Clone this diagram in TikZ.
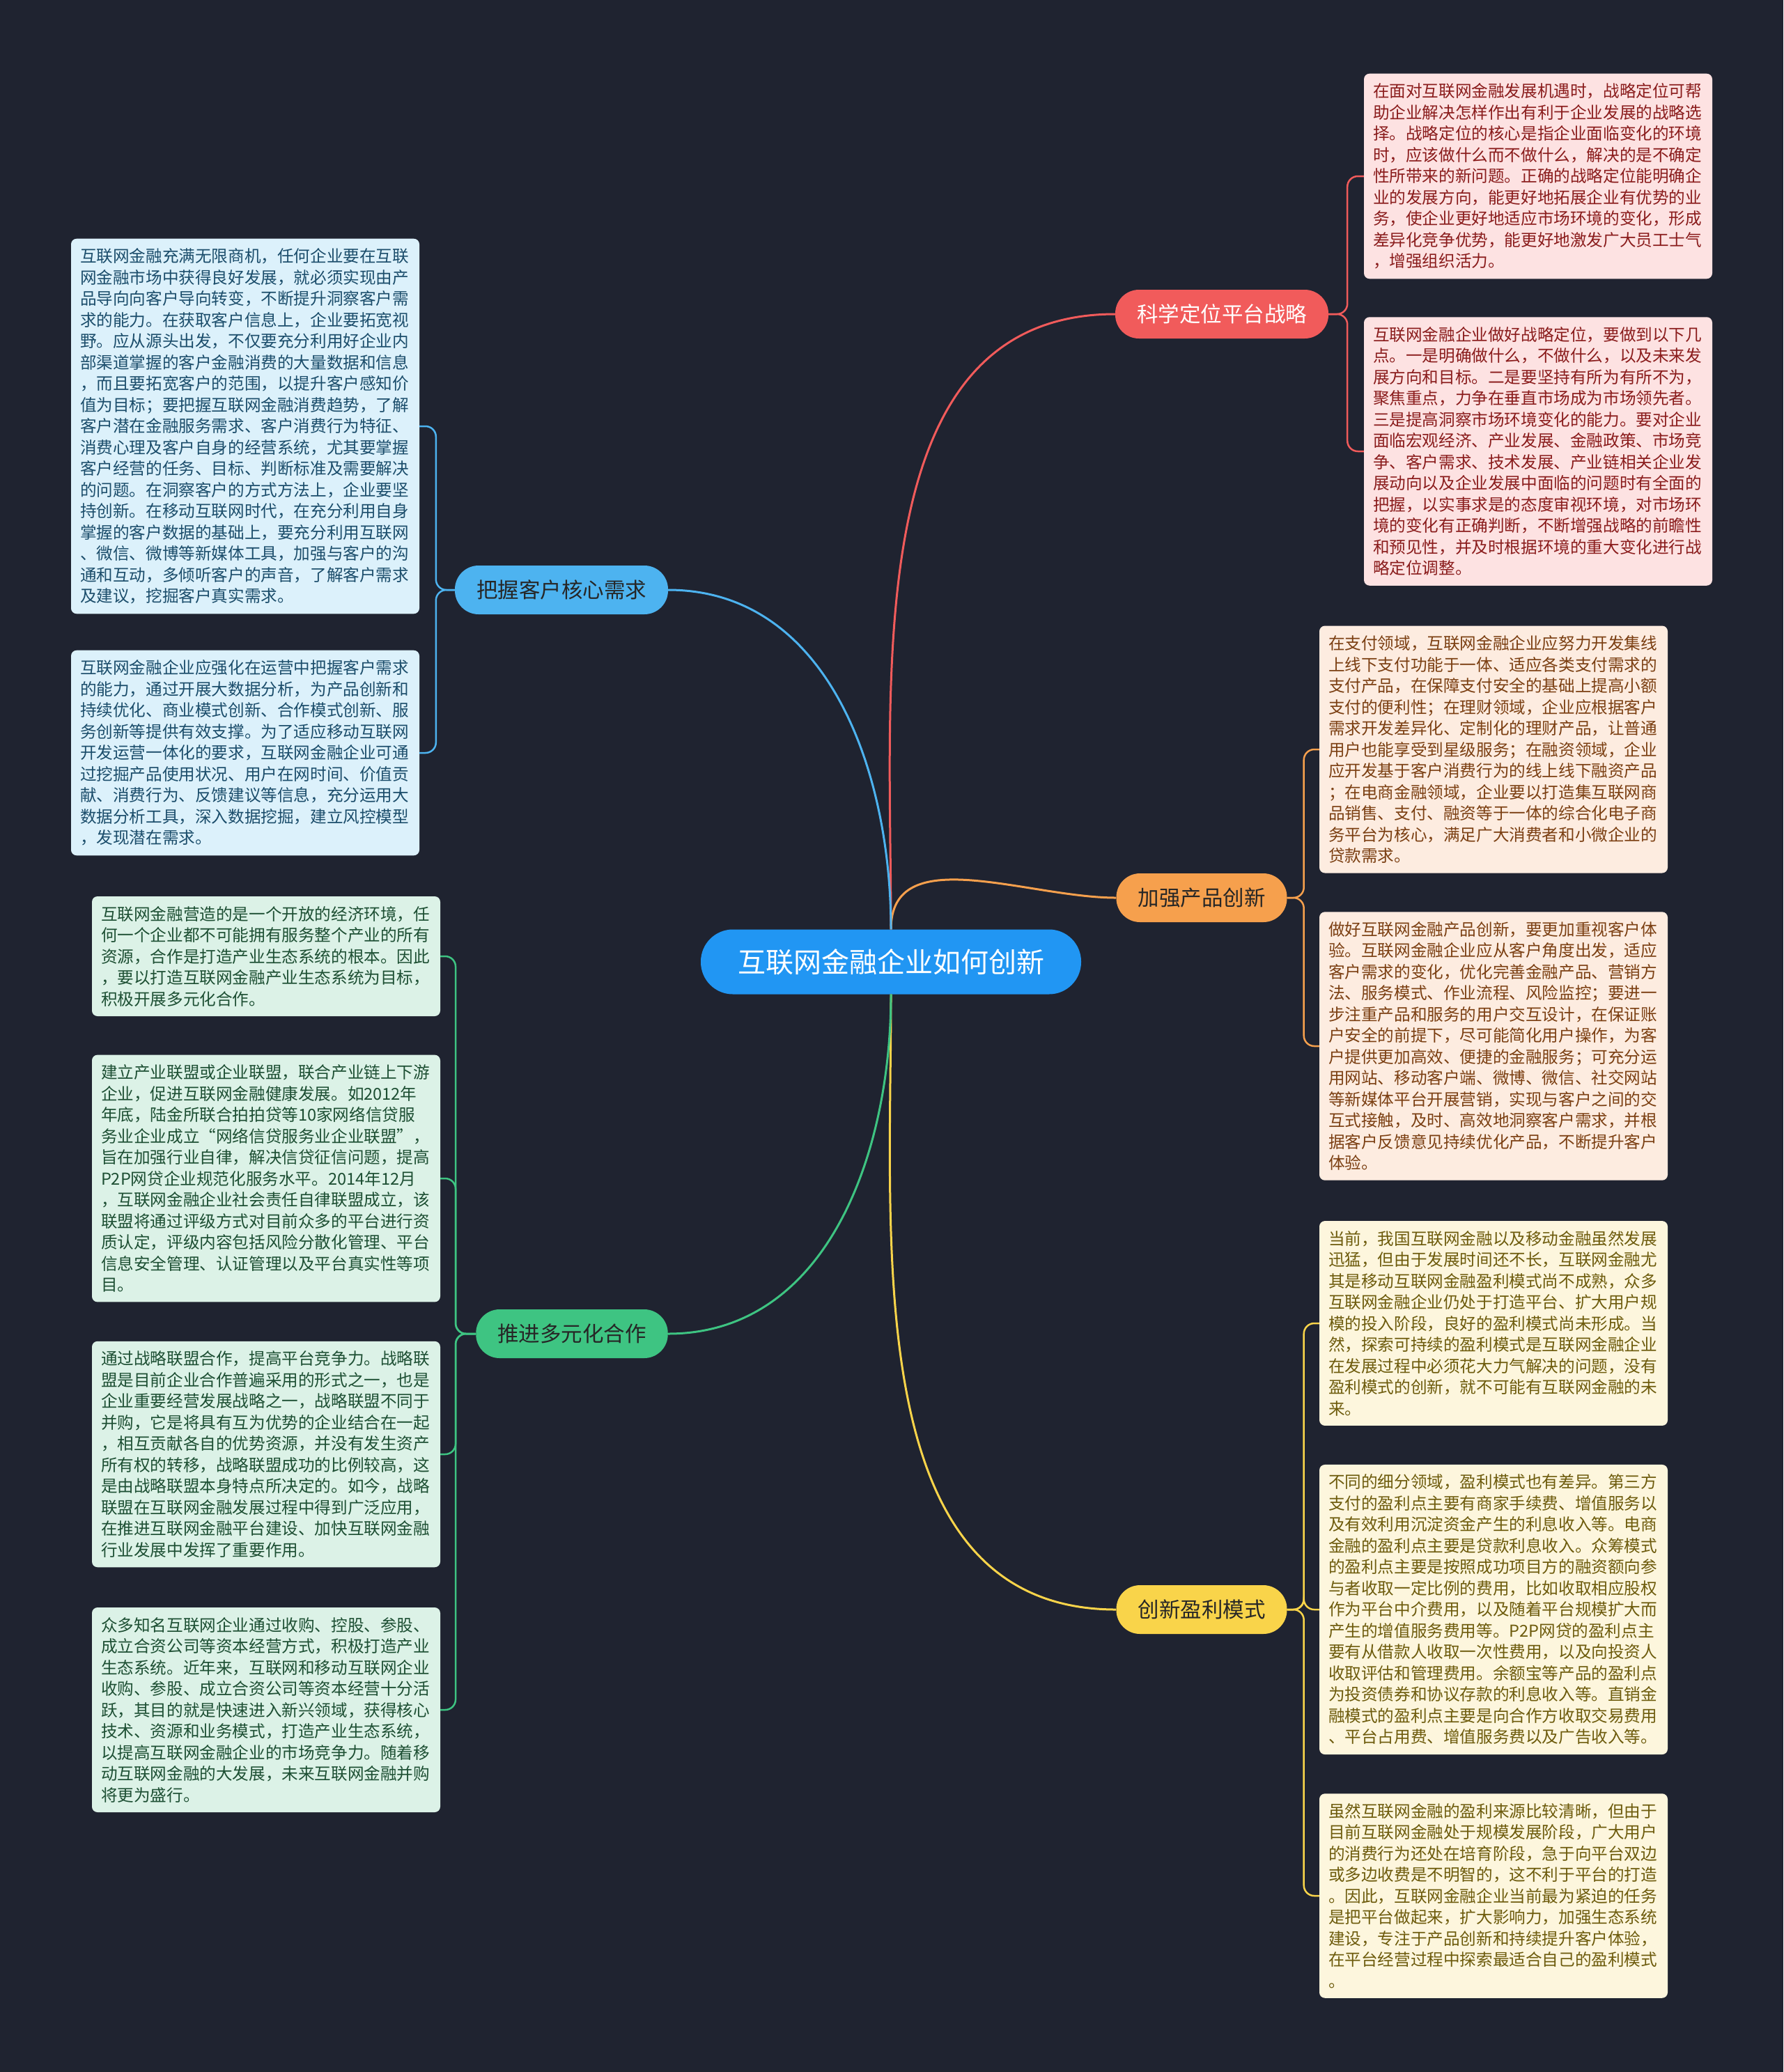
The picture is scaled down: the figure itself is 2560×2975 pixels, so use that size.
\documentclass[tikz,border=0pt]{standalone}
\usepackage{fontspec}
\setmainfont{Noto Sans CJK SC}
\usetikzlibrary{calc}
\definecolor{bg}{HTML}{1F2330}
\definecolor{cblue}{HTML}{2196F3}
\definecolor{rnode}{HTML}{F15B5B}
\definecolor{rfill}{HTML}{FDE2E2}
\definecolor{rtext}{HTML}{8A1C1C}
\definecolor{onode}{HTML}{F6A04D}
\definecolor{ofill}{HTML}{FDECE0}
\definecolor{otext}{HTML}{7B3F12}
\definecolor{ynode}{HTML}{F9D44A}
\definecolor{yfill}{HTML}{FDF6DD}
\definecolor{ytext}{HTML}{6D5B0C}
\definecolor{bnode}{HTML}{4DB3F0}
\definecolor{bfill}{HTML}{DCF1FB}
\definecolor{btext}{HTML}{1B4D6B}
\definecolor{gnode}{HTML}{3EC482}
\definecolor{gfill}{HTML}{DCF2E7}
\definecolor{gtext}{HTML}{1D4F33}
\tikzset{
  card/.style={rounded corners=8pt, inner xsep=13pt, inner ysep=14pt, text width=474pt, align=left, font=\fontsize{23.6}{30.5}\selectfont},
  branch/.style={rounded corners=34pt, minimum height=70pt, inner xsep=31pt, font=\fontsize{30.5}{36}\selectfont},
  link/.style={line width=3pt},
  bracket/.style={line width=2.5pt, rounded corners=15pt}
}
\begin{document}
\begin{tikzpicture}[x=1pt,y=-1pt]
\fill[bg] (0,0) rectangle (2560,2975);
\useasboundingbox (0,0) rectangle (2560,2975);

% centre
\node[fill=cblue, text=white, rounded corners=46pt, minimum height=93pt, minimum width=546pt, font=\fontsize{40}{46}\selectfont] (c) at (1279,1381) {互联网金融企业如何创新};

% branches
\node[branch, fill=rnode, text=white] (r) at (1754,451) {科学定位平台战略};
\node[branch, fill=onode, text=black!85] (o) at (1725,1289) {加强产品创新};
\node[branch, fill=ynode, text=black!85] (y) at (1725,2311) {创新盈利模式};
\node[branch, fill=bnode, text=black!85] (b) at (806,847) {把握客户核心需求};
\node[branch, fill=gnode, text=black!85] (g) at (821,1915) {推进多元化合作};

% centre links
\draw[link, rnode] (c.north) to[out=90,in=180] (r.west);
\draw[link, onode] (c.north) to[out=90,in=180] (o.west);
\draw[link, bnode] (c.north) to[out=90,in=0] (b.east);
\draw[link, ynode] (c.south) to[out=-90,in=180] (y.west);
\draw[link, gnode] (c.south) to[out=-90,in=0] (g.east);

% red cards
\node[card, fill=rfill, text=rtext] (r1) at (2208,253) {在面对互联网金融发展机遇时，战略定位可帮\\助企业解决怎样作出有利于企业发展的战略选\\择。战略定位的核心是指企业面临变化的环境\\时，应该做什么而不做什么，解决的是不确定\\性所带来的新问题。正确的战略定位能明确企\\业的发展方向，能更好地拓展企业有优势的业\\务，使企业更好地适应市场环境的变化，形成\\差异化竞争优势，能更好地激发广大员工士气\\，增强组织活力。};
\node[card, fill=rfill, text=rtext] (r2) at (2208,648) {互联网金融企业做好战略定位，要做到以下几\\点。一是明确做什么，不做什么，以及未来发\\展方向和目标。二是要坚持有所为有所不为，\\聚焦重点，力争在垂直市场成为市场领先者。\\三是提高洞察市场环境变化的能力。要对企业\\面临宏观经济、产业发展、金融政策、市场竞\\争、客户需求、技术发展、产业链相关企业发\\展动向以及企业发展中面临的问题时有全面的\\把握，以实事求是的态度审视环境，对市场环\\境的变化有正确判断，不断增强战略的前瞻性\\和预见性，并及时根据环境的重大变化进行战\\略定位调整。};

% orange cards
\node[card, fill=ofill, text=otext] (o1) at (2144,1076) {在支付领域，互联网金融企业应努力开发集线\\上线下支付功能于一体、适应各类支付需求的\\支付产品，在保障支付安全的基础上提高小额\\支付的便利性；在理财领域，企业应根据客户\\需求开发差异化、定制化的理财产品，让普通\\用户也能享受到星级服务；在融资领域，企业\\应开发基于客户消费行为的线上线下融资产品\\；在电商金融领域，企业要以打造集互联网商\\品销售、支付、融资等于一体的综合化电子商\\务平台为核心，满足广大消费者和小微企业的\\贷款需求。};
\node[card, fill=ofill, text=otext] (o2) at (2144,1502) {做好互联网金融产品创新，要更加重视客户体\\验。互联网金融企业应从客户角度出发，适应\\客户需求的变化，优化完善金融产品、营销方\\法、服务模式、作业流程、风险监控；要进一\\步注重产品和服务的用户交互设计，在保证账\\户安全的前提下，尽可能简化用户操作，为客\\户提供更加高效、便捷的金融服务；可充分运\\用网站、移动客户端、微博、微信、社交网站\\等新媒体平台开展营销，实现与客户之间的交\\互式接触，及时、高效地洞察客户需求，并根\\据客户反馈意见持续优化产品，不断提升客户\\体验。};

% yellow cards
\node[card, fill=yfill, text=ytext] (y1) at (2144,1900) {当前，我国互联网金融以及移动金融虽然发展\\迅猛，但由于发展时间还不长，互联网金融尤\\其是移动互联网金融盈利模式尚不成熟，众多\\互联网金融企业仍处于打造平台、扩大用户规\\模的投入阶段，良好的盈利模式尚未形成。当\\然，探索可持续的盈利模式是互联网金融企业\\在发展过程中必须花大力气解决的问题，没有\\盈利模式的创新，就不可能有互联网金融的未\\来。};
\node[card, fill=yfill, text=ytext] (y2) at (2144,2311) {不同的细分领域，盈利模式也有差异。第三方\\支付的盈利点主要有商家手续费、增值服务以\\及有效利用沉淀资金产生的利息收入等。电商\\金融的盈利点主要是贷款利息收入。众筹模式\\的盈利点主要是按照成功项目方的融资额向参\\与者收取一定比例的费用，比如收取相应股权\\作为平台中介费用，以及随着平台规模扩大而\\产生的增值服务费用等。P2P网贷的盈利点主\\要有从借款人收取一次性费用，以及向投资人\\收取评估和管理费用。余额宝等产品的盈利点\\为投资债券和协议存款的利息收入等。直销金\\融模式的盈利点主要是向合作方收取交易费用\\、平台占用费、增值服务费以及广告收入等。};
\node[card, fill=yfill, text=ytext] (y3) at (2144,2722) {虽然互联网金融的盈利来源比较清晰，但由于\\目前互联网金融处于规模发展阶段，广大用户\\的消费行为还处在培育阶段，急于向平台双边\\或多边收费是不明智的，这不利于平台的打造\\。因此，互联网金融企业当前最为紧迫的任务\\是把平台做起来，扩大影响力，加强生态系统\\建设，专注于产品创新和持续提升客户体验，\\在平台经营过程中探索最适合自己的盈利模式\\。};

% blue cards
\node[card, fill=bfill, text=btext] (b1) at (352,612) {互联网金融充满无限商机，任何企业要在互联\\网金融市场中获得良好发展，就必须实现由产\\品导向向客户导向转变，不断提升洞察客户需\\求的能力。在获取客户信息上，企业要拓宽视\\野。应从源头出发，不仅要充分利用好企业内\\部渠道掌握的客户金融消费的大量数据和信息\\，而且要拓宽客户的范围，以提升客户感知价\\值为目标；要把握互联网金融消费趋势，了解\\客户潜在金融服务需求、客户消费行为特征、\\消费心理及客户自身的经营系统，尤其要掌握\\客户经营的任务、目标、判断标准及需要解决\\的问题。在洞察客户的方式方法上，企业要坚\\持创新。在移动互联网时代，在充分利用自身\\掌握的客户数据的基础上，要充分利用互联网\\、微信、微博等新媒体工具，加强与客户的沟\\通和互动，多倾听客户的声音，了解客户需求\\及建议，挖掘客户真实需求。};
\node[card, fill=bfill, text=btext] (b2) at (352,1081) {互联网金融企业应强化在运营中把握客户需求\\的能力，通过开展大数据分析，为产品创新和\\持续优化、商业模式创新、合作模式创新、服\\务创新等提供有效支撑。为了适应移动互联网\\开发运营一体化的要求，互联网金融企业可通\\过挖掘产品使用状况、用户在网时间、价值贡\\献、消费行为、反馈建议等信息，充分运用大\\数据分析工具，深入数据挖掘，建立风控模型\\，发现潜在需求。};

% green cards
\node[card, fill=gfill, text=gtext] (g1) at (382,1373) {互联网金融营造的是一个开放的经济环境，任\\何一个企业都不可能拥有服务整个产业的所有\\资源，合作是打造产业生态系统的根本。因此\\，要以打造互联网金融产业生态系统为目标，\\积极开展多元化合作。};
\node[card, fill=gfill, text=gtext] (g2) at (382,1692) {建立产业联盟或企业联盟，联合产业链上下游\\企业，促进互联网金融健康发展。如2012年\\年底，陆金所联合拍拍贷等10家网络信贷服\\务业企业成立“网络信贷服务业企业联盟”，\\旨在加强行业自律，解决信贷征信问题，提高\\P2P网贷企业规范化服务水平。2014年12月\\，互联网金融企业社会责任自律联盟成立，该\\联盟将通过评级方式对目前众多的平台进行资\\质认定，评级内容包括风险分散化管理、平台\\信息安全管理、认证管理以及平台真实性等项\\目。};
\node[card, fill=gfill, text=gtext] (g3) at (382,2088) {通过战略联盟合作，提高平台竞争力。战略联\\盟是目前企业合作普遍采用的形式之一，也是\\企业重要经营发展战略之一，战略联盟不同于\\并购，它是将具有互为优势的企业结合在一起\\，相互贡献各自的优势资源，并没有发生资产\\所有权的转移，战略联盟成功的比例较高，这\\是由战略联盟本身特点所决定的。如今，战略\\联盟在互联网金融发展过程中得到广泛应用，\\在推进互联网金融平台建设、加快互联网金融\\行业发展中发挥了重要作用。};
\node[card, fill=gfill, text=gtext] (g4) at (382,2455) {众多知名互联网企业通过收购、控股、参股、\\成立合资公司等资本经营方式，积极打造产业\\生态系统。近年来，互联网和移动互联网企业\\收购、参股、成立合资公司等资本经营十分活\\跃，其目的就是快速进入新兴领域，获得核心\\技术、资源和业务模式，打造产业生态系统，\\以提高互联网金融企业的市场竞争力。随着移\\动互联网金融的大发展，未来互联网金融并购\\将更为盛行。};

% brackets
\draw[bracket, rnode] (r.east) -- ++(27,0) |- (r1.west);
\draw[bracket, rnode] (r.east) -- ++(27,0) |- (r2.west);
\draw[bracket, onode] (o.east) -- ++(24,0) |- (o1.west);
\draw[bracket, onode] (o.east) -- ++(24,0) |- (o2.west);
\draw[bracket, ynode] (y.east) -- ++(24,0) |- (y1.west);
\draw[bracket, ynode] (y.east) -- ++(24,0) |- (y2.west);
\draw[bracket, ynode] (y.east) -- ++(24,0) |- (y3.west);
\draw[bracket, bnode] (b.west) -- ++(-27,0) |- (b1.east);
\draw[bracket, bnode] (b.west) -- ++(-27,0) |- (b2.east);
\draw[bracket, gnode] (g.west) -- ++(-29,0) |- (g1.east);
\draw[bracket, gnode] (g.west) -- ++(-29,0) |- (g2.east);
\draw[bracket, gnode] (g.west) -- ++(-29,0) |- (g3.east);
\draw[bracket, gnode] (g.west) -- ++(-29,0) |- (g4.east);
\end{tikzpicture}
\end{document}
